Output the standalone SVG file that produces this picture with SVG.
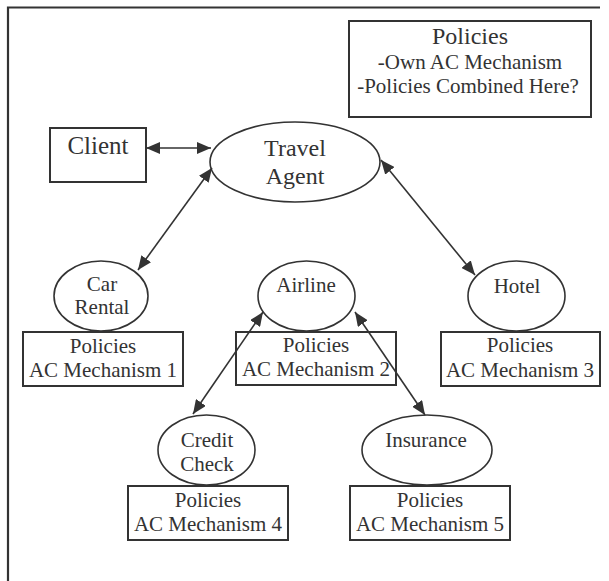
<svg xmlns="http://www.w3.org/2000/svg" width="609" height="581" viewBox="0 0 609 581">
<style>
  .frame{fill:none;stroke:#333;stroke-width:2.2}
  .box{fill:#fff;stroke:#333;stroke-width:2}
  .ell{fill:#fff;stroke:#333;stroke-width:1.6}
  .conn{fill:none;stroke:#333;stroke-width:1.6;marker-start:url(#ah);marker-end:url(#ah)}
  text{font-family:"Liberation Serif","Times New Roman",serif;fill:#333;text-anchor:middle}
  .t24{font-size:24px}
  .t21{font-size:21px}
</style>
<defs>
  <marker id="ah" viewBox="0 0 14 12" refX="14" refY="6" markerWidth="14" markerHeight="12" markerUnits="userSpaceOnUse" orient="auto-start-reverse">
    <path d="M0,0 L14,6 L0,12 Z" fill="#333"/>
  </marker>
</defs>
<rect width="609" height="581" fill="#fff"/>
<path class="frame" d="M8,581 L8,7.5 L600,7.5"/>

<g id="policies-top">
  <rect class="box" x="349" y="21" width="242" height="96"/>
  <text class="t24" x="470" y="44">Policies</text>
  <text class="t21" x="470" y="69">-Own AC Mechanism</text>
  <text class="t21" x="468" y="93">-Policies Combined Here?</text>
</g>

<g id="client">
  <rect class="box" x="50" y="128" width="96" height="54"/>
  <text class="t24" x="98" y="154" style="font-size:25px">Client</text>
</g>

<g id="travel-agent">
  <ellipse class="ell" cx="295" cy="162" rx="85" ry="40"/>
  <text class="t24" x="295" y="156">Travel</text>
  <text class="t24" x="295" y="184">Agent</text>
</g>

<g id="car-rental">
  <ellipse class="ell" cx="101" cy="296" rx="47" ry="35"/>
  <text class="t21" x="102" y="291">Car</text>
  <text class="t21" x="102" y="314">Rental</text>
</g>
<g id="policies-1">
  <rect class="box" x="23" y="332" width="160" height="54"/>
  <text class="t21" x="103" y="353">Policies</text>
  <text class="t21" x="103" y="377">AC Mechanism 1</text>
</g>

<g id="airline">
  <ellipse class="ell" cx="306.5" cy="296" rx="48.5" ry="35"/>
  <text class="t21" x="306" y="292">Airline</text>
</g>
<g id="policies-2">
  <rect class="box" x="236" y="332" width="160" height="53"/>
  <text class="t21" x="316" y="352">Policies</text>
  <text class="t21" x="316" y="376">AC Mechanism 2</text>
</g>

<g id="hotel">
  <ellipse class="ell" cx="516.5" cy="296" rx="48.5" ry="35"/>
  <text class="t21" x="517" y="293">Hotel</text>
</g>
<g id="policies-3">
  <rect class="box" x="441" y="332" width="159" height="54"/>
  <text class="t21" x="520" y="352">Policies</text>
  <text class="t21" x="520" y="377">AC Mechanism 3</text>
</g>

<g id="credit-check">
  <ellipse class="ell" cx="206.5" cy="450" rx="48.5" ry="35"/>
  <text class="t21" x="207" y="447">Credit</text>
  <text class="t21" x="207" y="471">Check</text>
</g>
<g id="policies-4">
  <rect class="box" x="128" y="486" width="160" height="54"/>
  <text class="t21" x="208" y="507">Policies</text>
  <text class="t21" x="208" y="531">AC Mechanism 4</text>
</g>

<g id="insurance">
  <ellipse class="ell" cx="427" cy="450" rx="65" ry="35"/>
  <text class="t21" x="426" y="447">Insurance</text>
</g>
<g id="policies-5">
  <rect class="box" x="350" y="486" width="160" height="54"/>
  <text class="t21" x="430" y="507">Policies</text>
  <text class="t21" x="430" y="531">AC Mechanism 5</text>
</g>

<g id="connectors">
  <line class="conn" x1="146" y1="148" x2="211" y2="148"/>
  <line class="conn" x1="212" y1="168" x2="138" y2="270"/>
  <line class="conn" x1="381" y1="160" x2="475" y2="275"/>
  <line class="conn" x1="263" y1="312" x2="193" y2="414"/>
  <line class="conn" x1="355" y1="312" x2="425" y2="415"/>
</g>
</svg>
